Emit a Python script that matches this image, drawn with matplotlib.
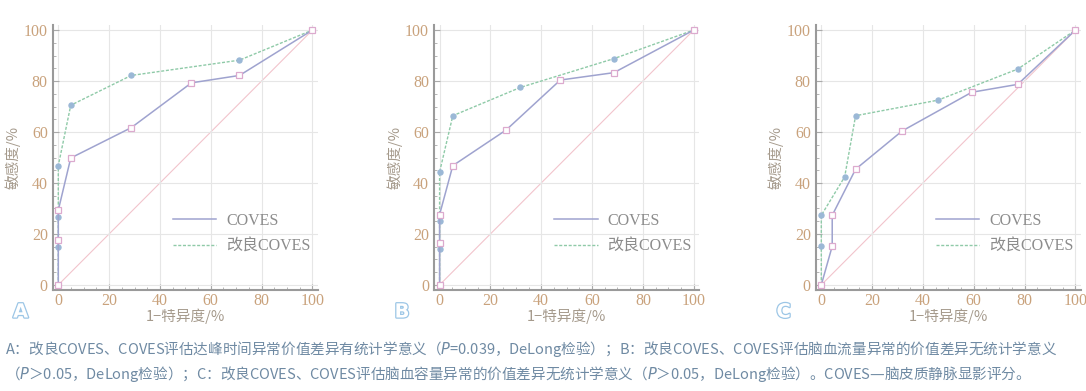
import numpy as np
import matplotlib
matplotlib.use('Agg')
import matplotlib.pyplot as plt
import matplotlib.patheffects as pe
from matplotlib.ticker import MultipleLocator
from matplotlib.lines import Line2D

plt.rcParams['font.family'] = ['Liberation Serif', 'Noto Sans CJK SC', 'DejaVu Sans']

# panel A
a_cov_x = [0, 0, 0, 4.9, 28.7, 52.4, 71.3, 100]
a_cov_y = [0, 17.6, 29.3, 49.8, 61.7, 79.3, 82.2, 100]
a_imp_x = [0, 0, 0, 0, 4.9, 28.7, 71.3, 100]
a_imp_y = [0, 14.8, 26.5, 46.8, 70.5, 82.2, 88.2, 100]
# panel B
b_cov_x = [0, 0, 0, 5.2, 26.2, 47.5, 68.6, 100]
b_cov_y = [0, 16.6, 27.6, 46.8, 60.8, 80.4, 83.3, 100]
b_imp_x = [0, 0, 0, 0, 5.2, 31.8, 68.6, 100]
b_imp_y = [0, 13.9, 25.0, 44.3, 66.4, 77.5, 88.8, 100]
# panel C
c_cov_x = [0, 4.3, 4.3, 13.5, 31.8, 59.2, 77.3, 100]
c_cov_y = [0, 15.2, 27.3, 45.4, 60.4, 75.6, 78.7, 100]
c_imp_x = [0, 0, 0, 9.2, 13.5, 45.9, 77.3, 100]
c_imp_y = [0, 15.2, 27.3, 42.4, 66.4, 72.5, 84.7, 100]

panels = [('A', a_cov_x, a_cov_y, a_imp_x, a_imp_y),
          ('B', b_cov_x, b_cov_y, b_imp_x, b_imp_y),
          ('C', c_cov_x, c_cov_y, c_imp_x, c_imp_y)]
lefts = [52.7, 434, 815.7]

W, H = 1086, 391
fig = plt.figure(figsize=(W/100, H/100), dpi=100)

tick_c = '#c9a27c'
lab_c = '#a59a8c'
cov_c = '#9fa3cf'
imp_c = '#8fcaa8'
for (name, cx, cy, ix, iy), lp in zip(panels, lefts):
    ax = fig.add_axes([lp/W, 1-290/H, 265.3/W, 265/H])
    ax.plot([0, 100], [0, 100], color='#f2c4cc', lw=0.8, zorder=1)
    ax.plot(cx, cy, '-', color=cov_c, lw=1.1, marker='s', ms=4.2,
            mfc='white', mec='#dcaace', mew=0.9, zorder=3)
    ax.plot(ix, iy, '--', color=imp_c, lw=1.0, dashes=(2.2, 1.2), marker='o', ms=3.6,
            mfc='#9bb8d6', mec='#9bb8d6', zorder=2)
    ax.set_xlim(-2.2, 102.2)
    ax.set_ylim(-2, 102)
    ax.xaxis.set_major_locator(MultipleLocator(20))
    ax.yaxis.set_major_locator(MultipleLocator(20))
    ax.xaxis.set_minor_locator(MultipleLocator(5))
    ax.yaxis.set_minor_locator(MultipleLocator(5))
    ax.grid(True, which='major', color='#e6e6e6', lw=0.8)
    ax.tick_params(which='both', direction='in', color='#aaaaaa', labelcolor=tick_c,
                   labelsize=11.5, top=False, right=False)
    ax.tick_params(which='major', length=4)
    ax.tick_params(which='minor', length=2.5)
    ax.tick_params(axis='x', pad=2)
    for s in ['top', 'right']:
        ax.spines[s].set_visible(False)
    for s in ['left', 'bottom']:
        ax.spines[s].set_color('#9a9a9a')
        ax.spines[s].set_linewidth(1.5)
    ax.set_xlabel('1−特异度/%', color=lab_c, fontsize=10.5,
                  family=['Noto Sans CJK SC', 'DejaVu Sans'], labelpad=0)
    ax.set_ylabel('敏感度/%', color=lab_c, fontsize=10.5,
                  family=['Noto Sans CJK SC', 'DejaVu Sans'], labelpad=2)
    handles = [Line2D([], [], color=cov_c, lw=1.1),
               Line2D([], [], color=imp_c, lw=1.0, ls='--', dashes=(2.2, 1.2))]
    leg = ax.legend(handles, ['COVES', '改良COVES'], loc='upper left',
                    bbox_to_anchor=(0.40, 0.345), frameon=False,
                    handlelength=2.7, handletextpad=0.6, labelspacing=0.6, fontsize=11.5)
    for t in leg.get_texts():
        t.set_color('#8c8c8c')
    t = fig.text((lp-32)/W, 1-312/H, name, fontsize=14, fontweight='bold',
                 color='white', ha='center', va='center', family='DejaVu Sans')
    t.set_path_effects([pe.Stroke(linewidth=1.8, foreground='#9cc6e6'), pe.Normal()])

cap1 = ('A：改良COVES、COVES评估达峰时间异常价值差异有统计学意义（$P$=0.039，DeLong检验）；'
        'B：改良COVES、COVES评估脑血流量异常的价值差异无统计学意义')
cap2 = ('（$P$＞0.05，DeLong检验）；C：改良COVES、COVES评估脑血容量异常的价值差异无统计学意义'
        '（$P$＞0.05，DeLong检验）。COVES—脑皮质静脉显影评分。')
for y, c in [(349, cap1), (374, cap2)]:
    fig.text(5/W, 1-y/H, c, fontsize=10.5, color='#6f8aa3', va='center', ha='left',
             family=['Noto Sans CJK SC', 'DejaVu Sans'])

fig.savefig('out.png', dpi=100)
